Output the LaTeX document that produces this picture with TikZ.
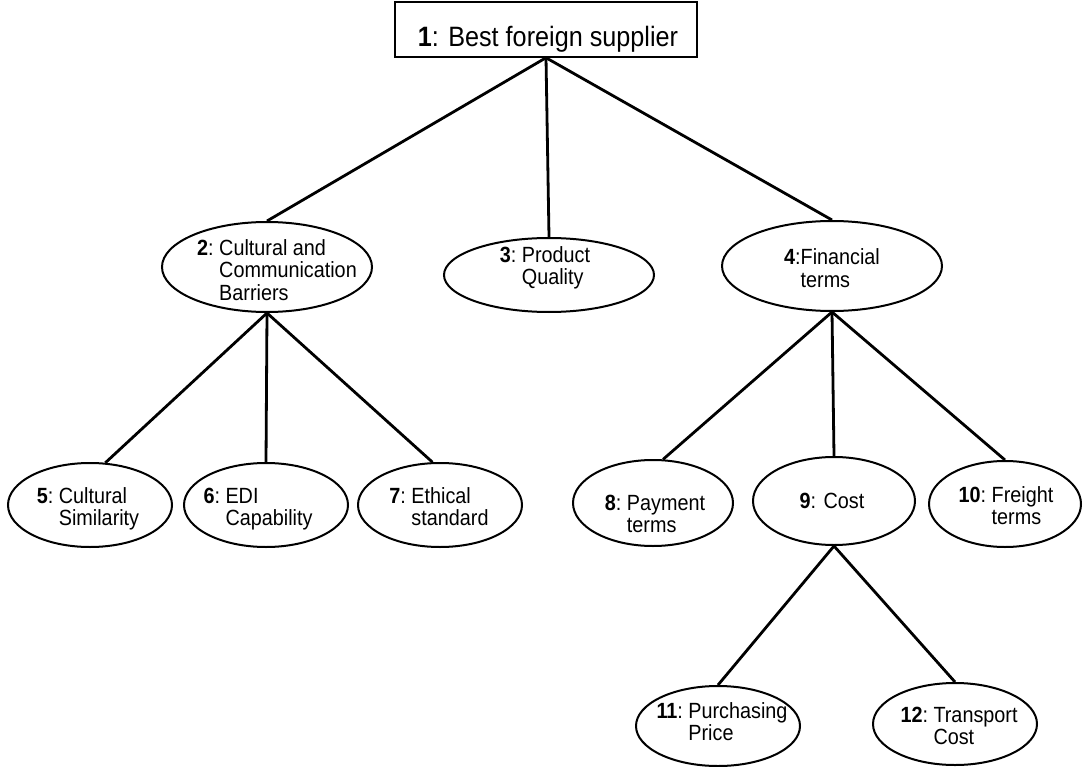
\documentclass[tikz,border=0pt]{standalone}
\usepackage{fontspec}
\setmainfont{Liberation Sans}[FakeStretch=0.9]
\usetikzlibrary{shapes.geometric}
\newcommand{\hang}[3][:\ ]{\textbf{#2}#1\begin{tabular}[t]{@{}l@{}}#3\end{tabular}}
\begin{document}
\begin{tikzpicture}[x=1pt,y=-1pt,
  ell/.style={draw, ellipse, line width=2pt, inner sep=0pt},
  txt/.style={inner sep=0pt, anchor=base, font=\fontsize{22}{22.5}\selectfont},
  conn/.style={line width=2.8pt},
  topbox/.style={draw, line width=1.5pt, minimum width=302pt, minimum height=55pt, inner sep=0pt}]
\useasboundingbox (0,0) rectangle (1083,767);

% shapes
\node[topbox] (n1) at (546,29.5) {};
\node[ell, minimum width=210pt, minimum height=90pt] (n2) at (267,267) {};
\node[ell, minimum width=210pt, minimum height=74pt] (n3) at (549,275) {};
\node[ell, minimum width=220pt, minimum height=90pt] (n4) at (832,266) {};
\node[ell, minimum width=164pt, minimum height=84pt] (n5) at (90,505) {};
\node[ell, minimum width=164pt, minimum height=84pt] (n6) at (266,505) {};
\node[ell, minimum width=164pt, minimum height=84pt] (n7) at (440,505) {};
\node[ell, minimum width=160pt, minimum height=86pt] (n8) at (653,503) {};
\node[ell, minimum width=162pt, minimum height=88pt] (n9) at (834,501) {};
\node[ell, minimum width=152pt, minimum height=86pt] (n10) at (1005,504) {};
\node[ell, minimum width=164pt, minimum height=80pt] (n11) at (718,726) {};
\node[ell, minimum width=164pt, minimum height=82pt] (n12) at (955,724) {};

% texts
\node[txt, font=\fontsize{28}{30}\selectfont] (t1) at (548,47) {\textbf{1}: Best foreign supplier};
\node[txt] (t2) at (277,255) {\hang{2}{Cultural and\\Communication\\Barriers}};
\node[txt] (t3) at (545,262) {\hang{3}{Product\\Quality}};
\node[txt] (t4) at (832,265) {\hang[:]{4}{Financial\\terms}};
\node[txt] (t5) at (88,503) {\hang{5}{Cultural\\Similarity}};
\node[txt] (t6) at (258,503) {\hang{6}{EDI\\Capability}};
\node[txt] (t7) at (439,503) {\hang{7}{Ethical\\standard}};
\node[txt] (t8) at (655,510) {\hang{8}{Payment\\terms}};
\node[txt] (t9) at (832,508) {\textbf{9}: Cost};
\node[txt] (t10) at (1006,502) {\hang{10}{Freight\\terms}};
\node[txt] (t11) at (722,718) {\hang{11}{Purchasing\\Price}};
\node[txt] (t12) at (959,722) {\hang{12}{Transport\\Cost}};

% connectors
\draw[conn] (n1.south) -- (n2.north);
\draw[conn] (n1.south) -- (n3.north);
\draw[conn] (n1.south) -- (n4.north);
\draw[conn] (n2.south) -- (n5.70);
\draw[conn] (n2.south) -- (n6.north);
\draw[conn] (n2.south) -- (n7.100);
\draw[conn] (n4.south) -- (n8.77);
\draw[conn] (n4.south) -- (n9.north);
\draw[conn] (n4.south) -- (n10.north);
\draw[conn] (n9.south) -- (n11.north);
\draw[conn] (n9.south) -- (n12.north);
\end{tikzpicture}
\end{document}
